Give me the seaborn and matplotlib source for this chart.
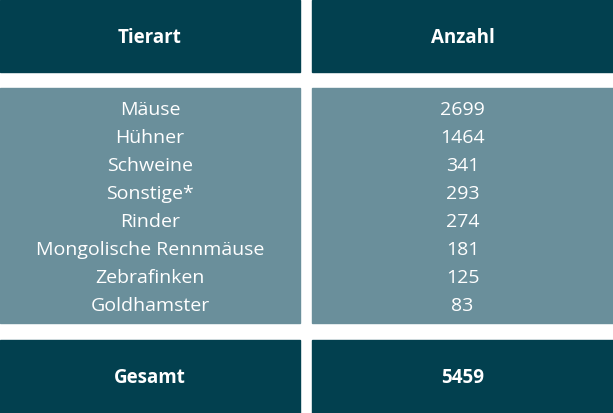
import matplotlib
matplotlib.use("Agg")
import matplotlib.pyplot as plt
import seaborn as sns
from matplotlib.patches import Rectangle

# table content
header = ["Tierart", "Anzahl"]
tierarten = ["Mäuse", "Hühner", "Schweine", "Sonstige*", "Rinder",
             "Mongolische Rennmäuse", "Zebrafinken", "Goldhamster"]
anzahl = [2699, 1464, 341, 293, 274, 181, 125, 83]
footer = ["Gesamt", "5459"]

dark = "#02404f"
light = "#6a8f9b"

sns.set_theme(style="white")
plt.rcParams["font.family"] = ["Open Sans", "DejaVu Sans"]

fig = plt.figure(figsize=(6.13, 4.13), dpi=100)
ax = fig.add_axes([0, 0, 1, 1])
ax.set_xlim(0, 613)
ax.set_ylim(413, 0)
ax.axis("off")

cols = [(0, 300), (312, 613)]
for x0, x1 in cols:
    ax.add_patch(Rectangle((x0, 0), x1 - x0, 72, color=dark))
    ax.add_patch(Rectangle((x0, 88), x1 - x0, 235, color=light))
    ax.add_patch(Rectangle((x0, 340), x1 - x0, 73, color=dark))

centers = [(x0 + x1) / 2 for x0, x1 in cols]
for c, h in zip(centers, header):
    ax.text(c, 38, h, color="white", fontsize=13.5, fontweight="bold",
            ha="center", va="center")
for i, (t, n) in enumerate(zip(tierarten, anzahl)):
    y = 110 + i * 28
    ax.text(centers[0], y, t, color="white", fontsize=14, ha="center", va="center")
    ax.text(centers[1], y, str(n), color="white", fontsize=14, ha="center", va="center")
for c, f in zip(centers, footer):
    ax.text(c, 378, f, color="white", fontsize=13.5, fontweight="bold",
            ha="center", va="center")

fig.savefig("out.png", dpi=100)
